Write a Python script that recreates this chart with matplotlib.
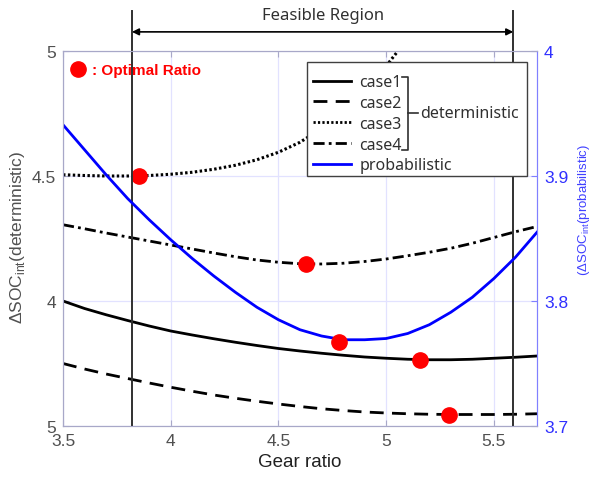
import matplotlib
matplotlib.use("Agg")
import matplotlib.pyplot as plt
from matplotlib.lines import Line2D

plt.rcParams['font.family'] = ['Liberation Sans', 'DejaVu Sans']
plt.rcParams['mathtext.fontset'] = 'custom'
plt.rcParams['mathtext.rm'] = 'Liberation Sans'

# gear ratio grid
gear = [3.5, 3.6, 3.7, 3.8, 3.9, 4.0, 4.1, 4.2, 4.3, 4.4, 4.5, 4.6,
        4.7, 4.8, 4.9, 5.0, 5.1, 5.2, 5.3, 5.4, 5.5, 5.6, 5.7]

# deterministic cases (left axis)
case1 = [4.00, 3.97, 3.945, 3.922, 3.90, 3.88, 3.864, 3.849, 3.835, 3.822, 3.81, 3.80,
         3.791, 3.783, 3.776, 3.771, 3.767, 3.765, 3.765, 3.767, 3.771, 3.775, 3.78]
case2 = [3.75, 3.728, 3.708, 3.69, 3.672, 3.655, 3.639, 3.624, 3.611, 3.599, 3.588, 3.578,
         3.569, 3.562, 3.556, 3.552, 3.549, 3.547, 3.546, 3.546, 3.546, 3.547, 3.549]
gear3 = gear[:17]
case3 = [4.505, 4.502, 4.50, 4.50, 4.502, 4.507, 4.515, 4.527, 4.543, 4.565, 4.595, 4.635,
         4.69, 4.76, 4.845, 4.94, 5.05]
case4 = [4.305, 4.289, 4.272, 4.256, 4.24, 4.224, 4.208, 4.192, 4.177, 4.164, 4.155, 4.149,
         4.148, 4.151, 4.158, 4.168, 4.181, 4.195, 4.211, 4.231, 4.254, 4.277, 4.298]

# probabilistic (right axis)
prob = [3.941, 3.921, 3.901, 3.882, 3.865, 3.849, 3.834, 3.820, 3.807, 3.795, 3.785, 3.777,
        3.772, 3.769, 3.769, 3.770, 3.774, 3.781, 3.791, 3.803, 3.818, 3.835, 3.855]

# optimal ratios
opt_x = [3.852, 4.63, 5.157, 5.29]
opt_y = [4.50, 4.148, 3.764, 3.545]
opt_prob_x = [4.78]
opt_prob_y = [3.767]

feasible_lo, feasible_hi = 3.82, 5.59

left_ticks = [3.5, 4.0, 4.5, 5.0]
left_labels = ['5', '4', '4.5', '5']
right_ticks = [3.7, 3.8, 3.9, 4.0]
right_labels = ['3.7', '3.8', '3.9', '4']
x_ticks = [3.5, 4.0, 4.5, 5.0, 5.5]
x_labels = ['3.5', '4', '4.5', '5', '5.5']

gray = '#505050'
blue = '#0000ff'
axcol = '#a8a8c8'
dash2 = (0, (5, 3))
dot3 = (0, (0.8, 0.8))
dashdot4 = (0, (4, 1.5, 1, 1.5))

fig = plt.figure(figsize=(5.93, 4.81), dpi=100)
ax = fig.add_axes([63 / 593, 1 - 427 / 481, 474 / 593, 375 / 481])
ax2 = ax.twinx()

ax.plot(gear, case1, color='k', lw=2.0, ls='-')
ax.plot(gear, case2, color='k', lw=2.0, ls=dash2)
ax.plot(gear3, case3, color='k', lw=2.2, ls=dot3)
ax.plot(gear, case4, color='k', lw=2.0, ls=dashdot4)
ax2.plot(gear, prob, color=blue, lw=2.0)

ax.plot(opt_x, opt_y, 'o', color='#ff0000', ms=11, zorder=5)
ax2.plot(opt_prob_x, opt_prob_y, 'o', color='#ff0000', ms=11, zorder=5)

ax.set_xlim(3.5, 5.7)
ax.set_ylim(3.5, 5.0)
ax2.set_ylim(3.7, 4.0)

ax.set_xticks(x_ticks)
ax.set_xticklabels(x_labels)
ax.set_yticks(left_ticks)
ax.set_yticklabels(left_labels)
ax2.set_yticks(right_ticks)
ax2.set_yticklabels(right_labels)

ax.grid(True, color='#e2e2ff', lw=0.9)
ax.set_axisbelow(True)
ax.tick_params(axis='both', direction='in', length=4, color=axcol, labelsize=12.5,
               labelcolor=gray, top=True, pad=5)
ax2.tick_params(axis='y', direction='in', length=4, color='#8080ff', labelsize=12.5,
                labelcolor='#3030ff', pad=5)
for s in ['left', 'bottom', 'top']:
    ax.spines[s].set_color(axcol)
    ax2.spines[s].set_color(axcol)
ax2.spines['right'].set_color('#8080ff')
ax.spines['right'].set_color('#8080ff')

ax.set_xlabel('Gear ratio', fontsize=13.5, color='#202020', labelpad=4)
fig.text(18 / 593, 1 - 238 / 481, r'$\Delta$SOC$_{\mathrm{int}}$(deterministic)',
         rotation=90, ha='center', va='center', fontsize=12.5, color=gray)
fig.text(584 / 593, 1 - 210 / 481, r'($\Delta$SOC$_{\mathrm{int}}$(probabilistic)',
         rotation=90, ha='center', va='center', fontsize=9.5, color='#4040ff')

# feasible region markers
for xv in (feasible_lo, feasible_hi):
    ax.axvline(xv, ymin=0, ymax=(427 - 12) / 375, color='#303030', lw=1.4,
               clip_on=False, zorder=6)
ax.annotate('', xy=(feasible_lo, 1.051), xytext=(feasible_hi, 1.051),
            xycoords=('data', 'axes fraction'),
            arrowprops=dict(arrowstyle='<|-|>', color='k', lw=1.2,
                            mutation_scale=10, shrinkA=0, shrinkB=0))
ax.text((feasible_lo + feasible_hi) / 2, 1.095, 'Feasible Region',
        transform=ax.get_xaxis_transform(), ha='center', va='center',
        fontsize=12, color='#303030', family='Noto Sans')

# optimal ratio note
ax.plot([0.032], [0.952], 'o', color='#ff0000', ms=11, transform=ax.transAxes,
        clip_on=False)
ax.text(0.061, 0.950, ': Optimal Ratio', transform=ax.transAxes, ha='left', va='center',
        fontsize=11, fontweight='bold', color='#ff0000', family='Liberation Sans')

# legend
handles = [Line2D([], [], color='k', lw=2.0, ls='-'),
           Line2D([], [], color='k', lw=2.0, ls=dash2),
           Line2D([], [], color='k', lw=2.0, ls=dot3),
           Line2D([], [], color='k', lw=2.0, ls=dashdot4),
           Line2D([], [], color=blue, lw=2.0)]
labels = ['case1', 'case2', 'case3', 'case4', 'probabilistic']
leg = ax2.legend(handles, labels, loc='upper left', bbox_to_anchor=(0.517, 0.951),
                 frameon=False, handlelength=2.4, handletextpad=0.5,
                 labelspacing=0.3, borderaxespad=0, borderpad=0.3,
                 prop={'family': 'Noto Sans', 'size': 11.5})
for t in leg.get_texts():
    t.set_color('#303030')

box = plt.Rectangle((0.515, 0.667), 0.464, 0.304, transform=ax.transAxes,
                    facecolor='white', edgecolor='#404040', lw=1.0, zorder=7)
ax2.add_patch(box)
leg.set_zorder(8)

fig.canvas.draw()
inv = ax.transAxes.inverted()
texts = leg.get_texts()
bb1 = texts[0].get_window_extent()
bb4 = texts[3].get_window_extent()
y_top = inv.transform((0, (bb1.y0 + bb1.y1) / 2 + 5))[1]
y_bot = inv.transform((0, (bb4.y0 + bb4.y1) / 2 - 5))[1]
xr = inv.transform((max(t.get_window_extent().x1 for t in texts[:4]) + 6, 0))[0]
xl = xr - 0.012
y_mid = (y_top + y_bot) / 2
ax2.plot([xl, xr, xr, xl], [y_top, y_top, y_bot, y_bot], color='#303030', lw=1.2,
         transform=ax.transAxes, zorder=9, clip_on=False)
ax2.plot([xr, xr + 0.022], [y_mid, y_mid], color='#303030', lw=1.2,
         transform=ax.transAxes, zorder=9, clip_on=False)
ax2.text(xr + 0.026, y_mid, 'deterministic', transform=ax.transAxes, ha='left',
         va='center', fontsize=11.5, color='#303030', family='Noto Sans', zorder=9)

fig.savefig('out.png', dpi=100)
